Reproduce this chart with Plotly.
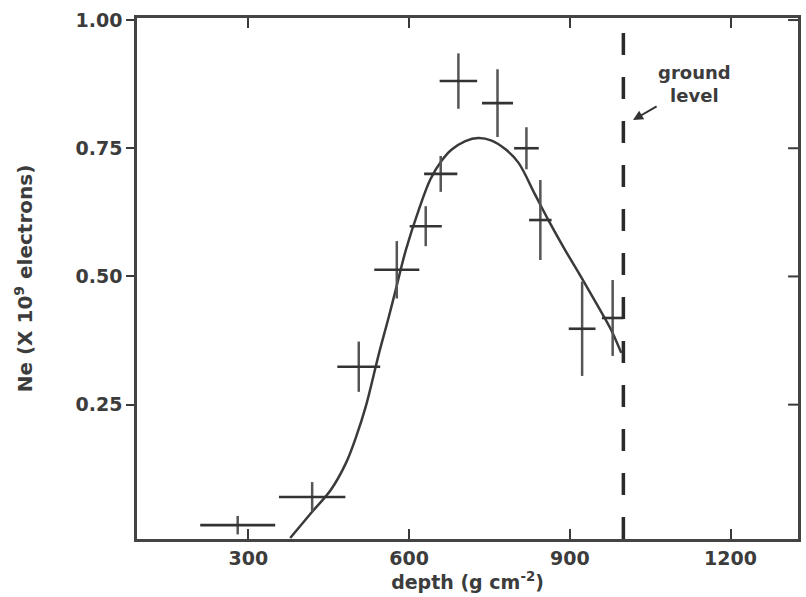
import plotly.graph_objects as go

# Measured shower size vs atmospheric depth
depth = [280, 419, 506, 577, 631, 659, 692, 765, 819, 845, 923, 980]
ne = [0.015, 0.070, 0.324, 0.513, 0.598, 0.700, 0.881, 0.838, 0.750, 0.610, 0.398, 0.419]
depth_err = [70, 62, 40, 42, 30, 31, 35, 29, 23, 21, 25, 20]
ne_err = [0.018, 0.029, 0.049, 0.056, 0.039, 0.035, 0.054, 0.066, 0.041, 0.078, 0.092, 0.074]

# Fitted longitudinal profile
fit_depth = [378, 419, 454, 482, 501, 519, 544, 562, 575, 594, 618, 640, 661,
             679, 705, 729, 754, 780, 804, 835, 860, 891, 921, 953, 977, 996]
fit_ne = [-0.01, 0.041, 0.084, 0.136, 0.187, 0.246, 0.351, 0.421, 0.474, 0.552,
          0.630, 0.690, 0.726, 0.747, 0.764, 0.770, 0.765, 0.748, 0.722, 0.660,
          0.610, 0.552, 0.499, 0.441, 0.396, 0.351]

GROUND_LEVEL = 1000

x_ticks = [300, 600, 900, 1200]
y_ticks = [0.25, 0.50, 0.75, 1.00]
y_tick_text = ["0.25", "0.50", "0.75", "1.00"]

X_RANGE = [92, 1326]
Y_RANGE = [-0.012, 1.004]

INK = "#3a3a3a"
TEXT = "#3c3c3c"
FONT = "DejaVu Sans"
BOLD = dict(family=FONT, size=19, color=TEXT, weight="bold")

fig = go.Figure()

fig.add_trace(go.Scatter(
    x=fit_depth, y=fit_ne, mode="lines",
    line=dict(color=INK, width=2.5, shape="spline", smoothing=1.0),
    showlegend=False, hoverinfo="skip",
))

fig.add_trace(go.Scatter(
    x=depth, y=ne, mode="markers",
    marker=dict(size=2, color="rgba(0,0,0,0)"),
    error_x=dict(type="data", array=depth_err, width=0, thickness=2.6, color="#333"),
    error_y=dict(type="data", array=ne_err, width=0, thickness=2.5, color="#555"),
    showlegend=False,
))

fig.add_shape(
    type="line", xref="x", yref="paper",
    x0=GROUND_LEVEL, x1=GROUND_LEVEL, y0=0, y1=1,
    line=dict(color="#2a2a2a", width=3.5, dash="22px,22px"),
)

# inward tick marks along the right-hand frame, one per y tick
for v in y_ticks:
    fig.add_shape(
        type="line", xref="paper", yref="y", x0=1, x1=0.985, y0=v, y1=v,
        line=dict(color=INK, width=2),
    )

fig.add_annotation(
    x=1018, y=0.805, xref="x", yref="y",
    ax=1133, ay=0.875, axref="x", ayref="y",
    text="ground<br>level", showarrow=True,
    arrowhead=2, arrowsize=1, arrowwidth=2, arrowcolor="#333",
    font=dict(family=FONT, size=18, color=TEXT, weight="bold"), align="center",
)

fig.update_layout(
    width=806, height=597,
    margin=dict(l=137, r=5, t=18, b=58),
    paper_bgcolor="white", plot_bgcolor="white",
    font=dict(family=FONT, size=19, color=TEXT),
    xaxis=dict(
        range=X_RANGE, tickvals=x_ticks, ticks="inside", ticklen=10, tickwidth=2,
        tickcolor=INK, showline=True, linewidth=2.5, linecolor="#444",
        mirror="allticks", showgrid=False, zeroline=False, tickfont=BOLD,
        title=dict(text="depth (g cm<sup>-2</sup>)", font=BOLD, standoff=6),
    ),
    yaxis=dict(
        range=Y_RANGE, tickvals=y_ticks, ticktext=y_tick_text, ticks="outside",
        ticklen=8, tickwidth=2, tickcolor=INK, showline=True, linewidth=2.5,
        linecolor="#444", mirror=True, showgrid=False, zeroline=False, tickfont=BOLD,
        title=dict(text="Ne (X 10<sup>9</sup> electrons)",
                   font=dict(family=FONT, size=20, color=TEXT, weight="bold"),
                   standoff=38),
    ),
)

fig.write_html("out.html")
